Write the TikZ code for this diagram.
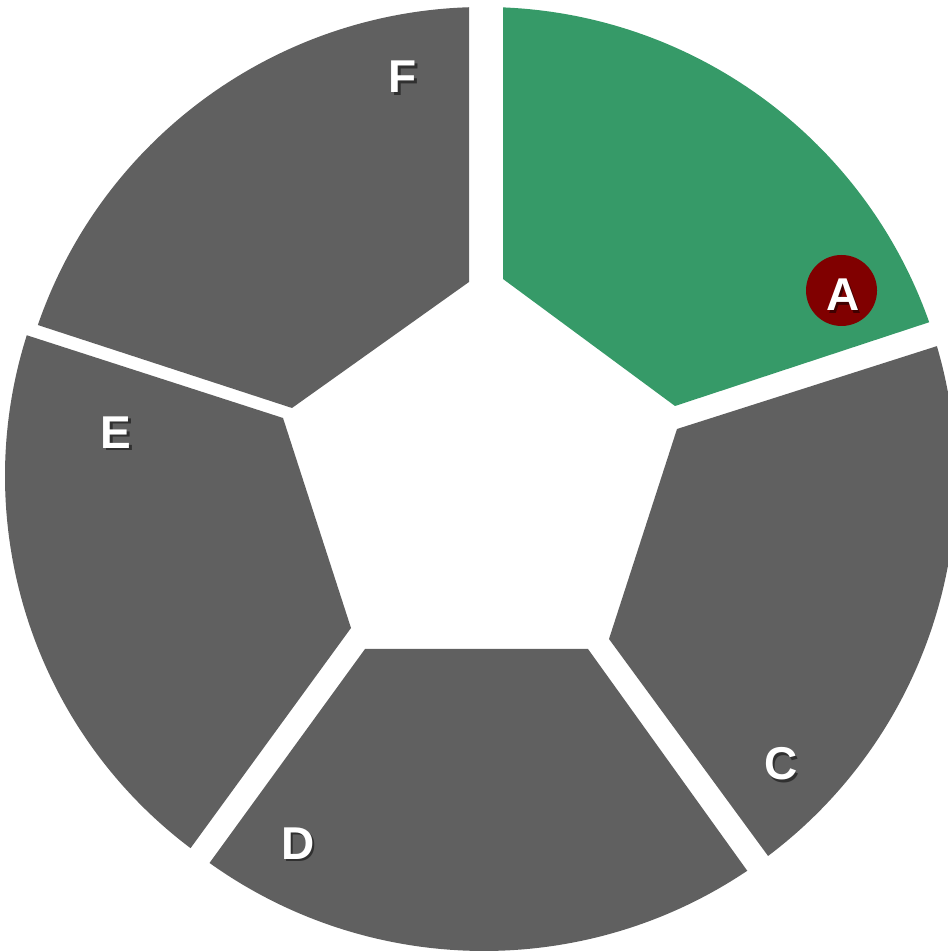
\documentclass[tikz,border=0pt]{standalone}
\usepackage{fontspec}
\setmainfont{Liberation Sans}
\definecolor{seggray}{RGB}{96,96,96}
\definecolor{seggreen}{RGB}{54,154,104}
\definecolor{badgered}{RGB}{128,0,0}
% letter with a drop shadow, shaded towards the given background colour
\newcommand{\shtext}[2]{%
  \makebox[0pt][l]{\hspace{2.5pt}\raisebox{-2.5pt}{\color{#1!50!black}#2}}%
  #2}
\begin{document}
\begin{tikzpicture}[x=1pt,y=1pt,
  lbl/.style={font=\bfseries\fontsize{46}{50}\selectfont, text=white, anchor=base, inner sep=0pt}]
\useasboundingbox (0,0) rectangle (947,952);
\coordinate (O) at (484,473);
\coordinate (OE) at (471,476);

% ring segments around the pentagonal hole
% A (highlighted)
\fill[seggreen] (503,673) -- ([shift={(87.69:472)}]O)
  arc[start angle=87.69, end angle=19.40, radius=472] -- (675,546) -- cycle;
% C
\fill[seggray] (677,523) -- ([shift={(16.35:472)}]O)
  arc[start angle=16.35, end angle=-53.0, radius=472] -- (609,313) -- cycle;
% D
\fill[seggray] (588,303) -- ([shift={(-56.1:472)}]O)
  arc[start angle=-56.1, end angle=-125.56, radius=472] -- (365,303) -- cycle;
% E
\fill[seggray] (351,324) -- ([shift={(233.0:466)}]OE)
  arc[start angle=233.0, end angle=162.42, radius=466] -- (283,534) -- cycle;
% F
\fill[seggray] (469,670) -- ([shift={(91.82:472)}]O)
  arc[start angle=91.82, end angle=160.96, radius=472] -- (292,544) -- cycle;

% badge behind A
\fill[badgered] (841.5,661.5) circle[radius=35.5];

% labels (anchored on their baselines)
\node[lbl] (labF) at (403,859)   {\shtext{seggray}{F}};
\node[lbl] (labE) at (116,503.5) {\shtext{seggray}{E}};
\node[lbl] (labD) at (298,92.5)  {\shtext{seggray}{D}};
\node[lbl] (labC) at (781,172)   {\shtext{seggray}{C}};
\node[lbl] (labA) at (843,641)   {\shtext{badgered}{A}};
\end{tikzpicture}
\end{document}
